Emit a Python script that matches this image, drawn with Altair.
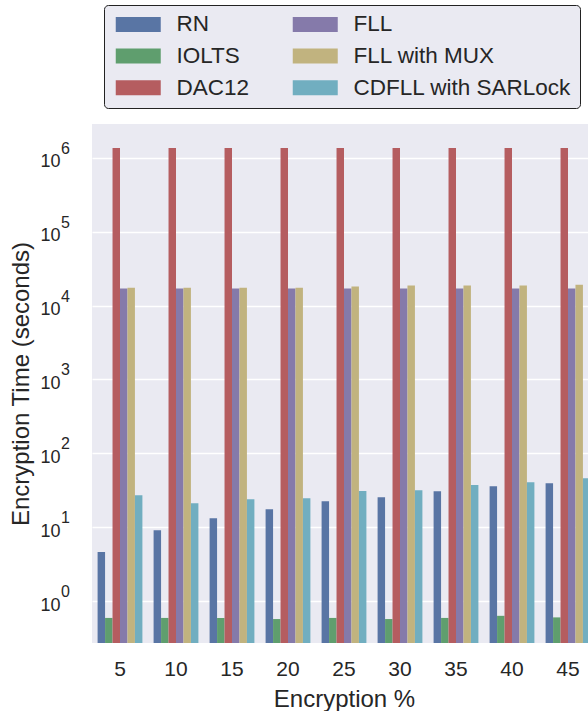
import altair as alt
import pandas as pd

# ---- data ----
pct = [5, 10, 15, 20, 25, 30, 35, 40, 45]
series = ["RN", "IOLTS", "DAC12", "FLL", "FLL with MUX", "CDFLL with SARLock"]
rn = [4.6, 9.1, 13.2, 17.5, 22.5, 25.5, 30.7, 35.9, 39.4]
iolts = [0.59, 0.59, 0.59, 0.57, 0.59, 0.57, 0.59, 0.63, 0.60]
dac12 = [1.36e6, 1.36e6, 1.36e6, 1.36e6, 1.36e6, 1.36e6, 1.36e6, 1.36e6, 1.36e6]
fll = [1.70e4, 1.70e4, 1.70e4, 1.70e4, 1.70e4, 1.70e4, 1.70e4, 1.70e4, 1.70e4]
fll_mux = [1.75e4, 1.75e4, 1.75e4, 1.75e4, 1.81e4, 1.87e4, 1.87e4, 1.87e4, 1.92e4]
cdfll = [27.1, 21.1, 23.9, 24.7, 30.8, 31.7, 37.1, 40.7, 46.1]
colors = ["#5975A4", "#5F9E6E", "#B55D60", "#857AAA", "#C1B37F", "#71AEC0"]
tick_values = [1, 10, 100, 1000, 10000, 100000, 1000000]
tick_exps = ["0", "1", "2", "3", "4", "5", "6"]

YMIN, YMAX = 0.27, 2.88e6

rows = []
for name, vals in zip(series, [rn, iolts, dac12, fll, fll_mux, cdfll]):
    for p, v in zip(pct, vals):
        rows.append({"pct": p, "series": name, "value": v})
df = pd.DataFrame(rows)

FONT = "Liberation Sans"
TXT = "#262626"

yscale = alt.Scale(type="log", domain=[YMIN, YMAX], nice=False)
yaxis = alt.Axis(values=tick_values, labelExpr="'10'", ticks=False,
                 domain=False, grid=True, gridColor="white",
                 gridWidth=1.5, labelFontSize=18, labelFont=FONT,
                 labelColor=TXT, labelPadding=32, labelOffset=4,
                 titleFontSize=24, titleFont=FONT, titleColor=TXT,
                 titleFontWeight="normal", titlePadding=6)

bars = alt.Chart(df).mark_bar(clip=True).encode(
    x=alt.X("pct:O", title="Encryption %",
            scale=alt.Scale(range=[0, 504], paddingInner=0.2, paddingOuter=0.1),
            axis=alt.Axis(labelAngle=0, ticks=False, domain=False, grid=False,
                          labelFontSize=21, labelPadding=15, labelFont=FONT,
                          labelColor=TXT, titleFontSize=24, titleFont=FONT,
                          titleColor=TXT, titleFontWeight="normal", titlePadding=8)),
    xOffset=alt.XOffset("series:N", sort=series,
                        scale=alt.Scale(paddingInner=0, paddingOuter=0)),
    y=alt.Y("value:Q", scale=yscale, title="Encryption Time (seconds)", axis=yaxis),
    y2=alt.datum(YMIN),
    color=alt.Color("series:N",
                    scale=alt.Scale(domain=series, range=colors),
                    legend=alt.Legend(orient="none", legendX=12, legendY=-119,
                                      columns=2, title=None, labelFontSize=22.5,
                                      labelFont=FONT, labelColor=TXT,
                                      symbolType="M-1,-1H5V1H-1Z",
                                      symbolSize=225, symbolStrokeWidth=0,
                                      symbolOpacity=1,
                                      labelOffset=42, columnPadding=39,
                                      rowPadding=8.8, padding=8,
                                      fillColor="#EAEAF2", strokeColor="#222222",
                                      cornerRadius=4, labelLimit=400)),
)

exp_df = pd.DataFrame({"v": tick_values, "e": tick_exps})
exps = alt.Chart(exp_df).mark_text(
    align="left", baseline="middle", dy=-9, fontSize=16, font=FONT, color=TXT
).encode(
    x=alt.value(-31),
    y=alt.Y("v:Q", scale=yscale, title="Encryption Time (seconds)", axis=yaxis),
    text="e:N",
)

chart = alt.layer(bars, exps).properties(
    width=496, height=519,
    autosize=alt.AutoSizeParams(type="none"),
    padding={"left": 92, "top": 124, "right": 0, "bottom": 68},
    background="white",
).configure_view(fill="#EAEAF2", stroke=None)

chart.save("out.html", embed_options={"renderer": "svg", "actions": False})
